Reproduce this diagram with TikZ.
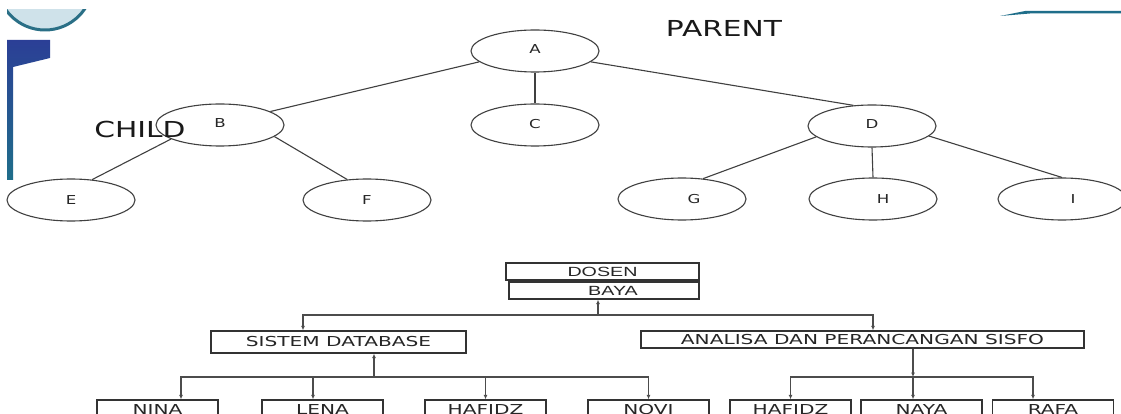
\documentclass[tikz,border=0pt]{standalone}
\usepackage{fontspec}
\usetikzlibrary{shapes.geometric,arrows.meta}
\newfontfamily\elfont[FakeStretch=1.35]{DejaVu Sans}
\newfontfamily\boxfont[FakeStretch=1.47]{DejaVu Sans}
\newfontfamily\arfont[FakeStretch=1.48]{Liberation Sans}
\definecolor{barblue}{HTML}{2B3F96}
\definecolor{barteal}{HTML}{1F6E8A}
\definecolor{rimteal}{HTML}{2A6F86}
\definecolor{clockfill}{HTML}{CFE2EA}
\begin{document}
\begin{tikzpicture}[x=1pt,y=-1pt,
  ell/.style={ellipse,draw=black!75,line width=1.1pt,minimum width=128pt,minimum height=42pt,inner sep=0pt,
    font=\elfont\fontsize{12.3}{14}\selectfont,text=black!85},
  tl/.style={draw=black!75,line width=1.1pt},
  big/.style={inner sep=0pt,font=\elfont\fontsize{22}{24}\selectfont,text=black!90},
  bx/.style={draw=black!80,line width=1.4pt,inner sep=0pt,minimum height=17pt,
    font=\boxfont\fontsize{13.7}{15}\selectfont,text=black!85},
  bxa/.style={bx,font=\arfont\fontsize{13.3}{15}\selectfont},
  leaf/.style={bx,minimum width=121pt,minimum height=24pt},
  con/.style={draw=black!70,line width=1.2pt},
  arr/.style={con,-{Latex[length=4.5pt,width=4pt]}}
]
\useasboundingbox (0,0) rectangle (1121,414);
\clip (0,0) rectangle (1121,414);
\fill[white] (0,0) rectangle (1121,414);

% slide decorations
\begin{scope}
\clip (7,10) rectangle (120,40);
\fill[clockfill,draw=rimteal,line width=3pt] (45,-18) circle (48);
\end{scope}
\shade[top color=barblue,bottom color=barteal] (7,40) -- (50,40) -- (50,58) -- (13,67) -- (13,180) -- (7,180) -- cycle;
\fill[barteal] (1000,16) -- (1025,11) -- (1121,11) -- (1121,13.5) -- (1030,13.5) -- cycle;

% upper tree
\node[ell] (A) at (535,51) {\raisebox{3pt}{A}};
\node[ell] (B) at (220,125) {\raisebox{3pt}{B}};
\node[ell] (C) at (535,125) {\raisebox{3pt}{C}};
\node[ell] (D) at (872,126) {\raisebox{4pt}{D}};
\node[ell] (E) at (71,200) {E\hspace{20pt}};
\node[ell] (F) at (367,200) {F\hspace{20pt}};
\node[ell] (G) at (682,199) {\hspace{24pt}G};
\node[ell] (H) at (873,199) {\hspace{20pt}H};
\node[ell] (I) at (1062,199) {\hspace{22pt}I};

\draw[tl] (A.191) -- (B.15);
\draw[tl] (A.south) -- (C.north);
\draw[tl] (A.-11) -- (D.132);
\draw[tl] (B.196) -- (E.44);
\draw[tl] (B.-12) -- (F.134);
\draw[tl] (D.191) -- (G.44);
\draw[tl] (D.south) -- (H.north);
\draw[tl] (D.-10) -- (I.north);

\node[big] (parent) at (724,28) {PARENT};
\node[big] (child) at (140,129) {CHILD};

% lower chart
\node[bxa,minimum width=193pt] (dosen) at (602.5,271.5) {DOSEN};
\node[bxa,minimum width=190pt] (baya) at (604,290.5) {\hspace{18pt}BAYA};
\node[bx,minimum width=255pt,minimum height=22pt] (sd) at (338.5,342) {SISTEM DATABASE};
\node[bx,minimum width=443pt] (ap) at (862.5,339.5) {ANALISA DAN PERANCANGAN SISFO};

\node[leaf] (nina) at (157.5,412) {\raisebox{4.5pt}{NINA}};
\node[leaf] (lena) at (322.5,412) {\raisebox{4.5pt}{LENA}};
\node[leaf] (haf1) at (485.5,412) {\raisebox{4.5pt}{HAFIDZ}};
\node[leaf] (novi) at (648.5,412) {\raisebox{4.5pt}{NOVI}};
\node[leaf] (haf2) at (790.5,412) {\raisebox{4.5pt}{HAFIDZ}};
\node[leaf] (naya) at (921.5,412) {\raisebox{4.5pt}{NAYA}};
\node[leaf] (rafa) at (1053,412) {\raisebox{4.5pt}{RAFA}};

\coordinate (j1) at (598,315);
\draw[arr] (j1) -- (j1 |- baya.south);
\draw[arr] (j1) -| ([xshift=-35.5pt]sd.north);
\draw[arr] (j1) -| ([xshift=10.5pt]ap.north);

\coordinate (j2) at (374,377);
\draw[arr] (j2) -- (j2 |- sd.south);
\draw[arr] (j2) -| ([xshift=23.5pt]nina.north);
\draw[arr] (j2) -| ([xshift=-9.5pt]lena.north);
\draw[arr] (j2) -| (haf1.north);
\draw[arr] (j2) -| (novi.north);

\coordinate (j3) at (913,377);
\draw[arr] ([xshift=50.5pt]ap.south) -- (j3);
\draw[arr] (j3) -| (haf2.north);
\draw[arr] (j3) -- (j3 |- naya.north);
\draw[arr] (j3) -| ([xshift=-20pt]rafa.north);
\end{tikzpicture}
\end{document}
